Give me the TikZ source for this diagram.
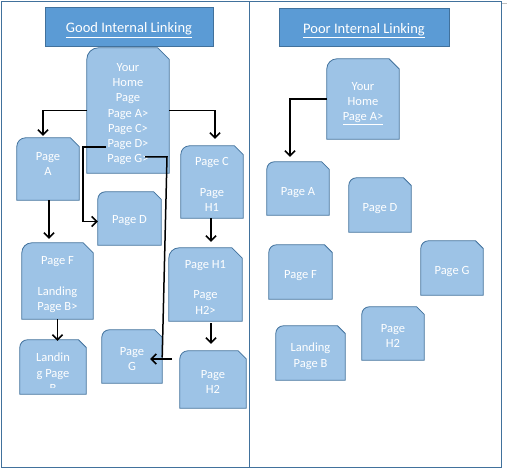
\documentclass[tikz,border=0pt]{standalone}
\usepackage{fontspec}
\setmainfont{Carlito}
\usetikzlibrary{arrows.meta,backgrounds,calc}

\definecolor{titleblue}{HTML}{5B9BD5}
\definecolor{pageblue}{HTML}{9DC3E6}
\definecolor{edgeblue}{HTML}{41719C}

% text lines of a box, set a little low as in the boxes of the picture
\newcommand\pagetext[2][3.5pt]{\raisebox{-#1}[\height][\depth]{\begin{tabular}{@{}c@{}}#2\end{tabular}}}

\tikzset{
  panel/.style={draw=edgeblue, line width=0.9pt},
  titlebox/.style 2 args={draw=edgeblue, fill=titleblue, text=white,
    minimum width=#1, minimum height=#2, font=\fontsize{14.5}{17}\selectfont},
  pagebox/.style 2 args={text=white, inner sep=0pt,
    minimum width=#1, minimum height=#2, font=\fontsize{12.5}{15.3}\selectfont},
  pageshape/.style={draw=edgeblue, fill=pageblue, line width=0.8pt},
  wire/.style={draw=black, line width=1.5pt},
  link/.style={wire, -{Straight Barb[length=5pt,width=10pt]}},
}

\begin{document}
\begin{tikzpicture}[x=1pt,y=-1pt]
\useasboundingbox (0,0) rectangle (507,473);

% the two panels
\draw[panel] (1,1) rectangle (249,467);
\draw[panel] (249,1) rectangle (501,467);
\draw[gray!50, line width=0.8pt] (502,3) -- (507,3);

% titles
\node[titlebox={168pt}{39pt}] (goodtitle) at (129,26.5) {\pagetext[3pt]{\underline{Good Internal Linking}}};
\node[titlebox={170pt}{38pt}] (poortitle) at (364,27) {\pagetext[3pt]{\underline{Poor Internal Linking}}};

% good internal linking
\node[pagebox={82pt}{125pt}] (homeL) at (128,110.5) {\pagetext{Your\\Home\\Page\\Page A>\\Page C>\\Page D>\\Page G>}};
\node[pagebox={62pt}{62pt}] (pageA) at (48,169) {\pagetext{Page\\A\\~}};
\node[pagebox={63pt}{53pt}] (pageD) at (129.5,218.5) {\pagetext[2pt]{Page D}};
\node[pagebox={62pt}{72pt}] (pageC) at (212,182) {\pagetext{Page C\\ \\Page\\H1}};
\node[pagebox={71pt}{76pt}] (pageF) at (57.5,281) {\pagetext{Page F\\ \\Landing\\Page B>}};
\begin{scope}
\clip (0,330) rectangle (100,388);
\node[pagebox={66pt}{54pt}] (landB) at (53,367) {\pagetext[7pt]{Landin\\g Page\\B}};
\end{scope}
\node[pagebox={60pt}{53pt}] (pageG) at (132,356.5) {\pagetext{Page\\G}};
\node[pagebox={73pt}{73pt}] (pageH1) at (205.5,284.5) {\pagetext{Page H1\\ \\Page\\H2>}};
\node[pagebox={66pt}{57pt}] (pageH2) at (213,379.5) {\pagetext{Page\\H2}};

% poor internal linking
\node[pagebox={72pt}{80pt}] (homeR) at (363,99) {\pagetext{Your\\Home\\\underline{Page A>}}};
\node[pagebox={62pt}{53pt}] (rpageA) at (298,188.5) {\pagetext{Page A}};
\node[pagebox={62pt}{54pt}] (rpageD) at (380,205) {\pagetext{Page D}};
\node[pagebox={63pt}{54pt}] (rpageF) at (300.5,272) {\pagetext{Page F}};
\node[pagebox={62pt}{54pt}] (rpageG) at (452,268) {\pagetext{Page G}};
\node[pagebox={62pt}{53pt}] (rpageH2) at (393,333.5) {\pagetext{Page\\H2}};
\node[pagebox={69pt}{54pt}] (rlandB) at (310.5,353) {\pagetext{Landing\\Page B}};

% page shapes: round top left, cut top right
\begin{scope}[on background layer]
\foreach \b in {homeL,pageA,pageD,pageC,pageF,landB,pageG,pageH1,pageH2,
                homeR,rpageA,rpageD,rpageF,rpageG,rpageH2,rlandB}{
  \draw[pageshape] let \p1=($(\b.north east)-(\b.south west)$),
      \n1={0.14*min(\x1,\y1)} in
    (\b.south west) -- ([yshift=-\n1]\b.north west)
    arc[start angle=180,end angle=90,radius=\n1]
    -- ([xshift=-\n1]\b.north east) -- ([yshift=-\n1]\b.north east)
    -- (\b.south east) -- cycle;
}
\end{scope}

% links
\coordinate (linkD) at (106,147);
\coordinate (linkG) at (145,157);
\draw[link] (homeL.west) -| ([xshift=-5pt,yshift=2pt]pageA.north);
\draw[link] (homeL.east) -| ([xshift=3pt,yshift=7pt]pageC.north);
\draw[link] (linkD) -- ++(-23,0) |- ([yshift=-3pt]pageD.west);
\draw[wire] (linkG) -- ++(22,0) -- ([yshift=-1pt]pageG.east);
\draw[link] ([xshift=10pt,yshift=-2.5pt]pageG.east) -- ([xshift=-12pt,yshift=-2.5pt]pageG.east);
\draw[link] ([xshift=1pt]pageA.south) -- ([xshift=1pt,yshift=4pt]pageA.south |- pageF.north);
\draw[link] ([xshift=-1pt]pageC.south) -- ([xshift=-1pt,yshift=6pt]pageC.south |- pageH1.north);
\draw[link] (pageF.south) -- ([yshift=-1pt]pageF.south |- landB.north);
\draw[link] ([xshift=-2pt,yshift=-2pt]pageH2.north |- pageH1.south) -- ([xshift=-2pt,yshift=7pt]pageH2.north);
\draw[link] (homeR.west) -| ([xshift=-8pt,yshift=5pt]rpageA.north);
\end{tikzpicture}
\end{document}
